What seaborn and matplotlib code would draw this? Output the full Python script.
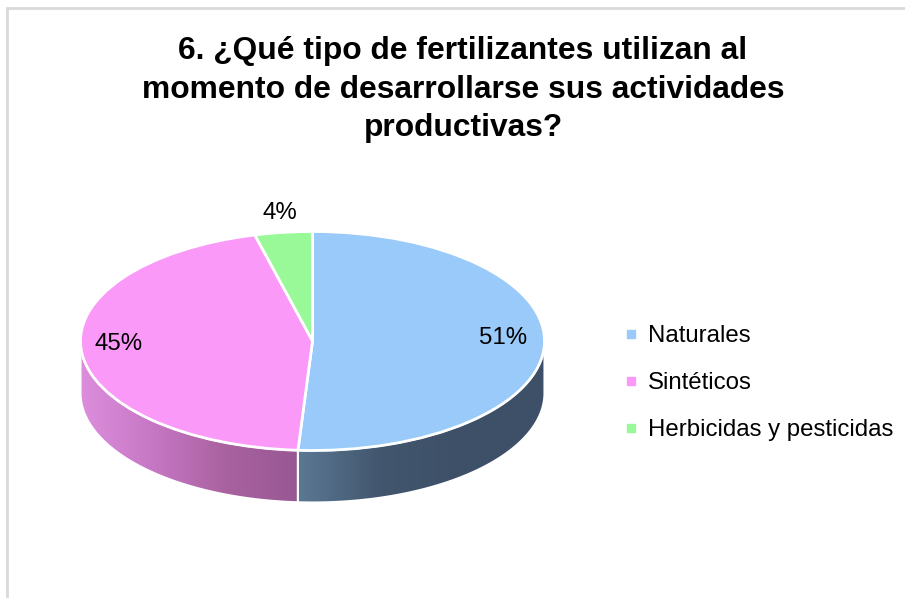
import numpy as np
import matplotlib.pyplot as plt
import seaborn as sns
from matplotlib.colors import ListedColormap
from matplotlib.patches import Polygon, Rectangle
from matplotlib.lines import Line2D
from matplotlib.transforms import Affine2D

sns.set_style("white")
plt.rcParams['font.family'] = ['Liberation Sans', 'DejaVu Sans']
plt.rcParams['text.color'] = 'black'

# datos
categorias = ['Naturales', 'Sintéticos', 'Herbicidas y pesticidas']
porcentajes = [51, 45, 4]
etiquetas = ['51%', '45%', '4%']
titulo = '6. ¿Qué tipo de fertilizantes utilizan al\nmomento de desarrollarse sus actividades\nproductivas?'

# colores
colores_top = ['#99caf9', '#fa99f8', '#99f999']
colores_lado = [['#5b7894', '#42566e', '#3d5068', '#3d5068'],
                ['#dc8edc', '#c677c4', '#a9629f', '#975893'],
                ['#6fbf6f', '#4f9f4f']]

# geometria del pastel (pixeles, y hacia arriba)
cx, cy = 312.5, 257.0
a, b = 232.0, 109.5
prof = 52.0
dist_etiq = [0.82, 0.84, 1.12]
dy_etiq = 6

fig = plt.figure(figsize=(9.05, 5.98), dpi=100)
ax = fig.add_axes([0, 0, 1, 1])

# borde del grafico
fig.patches.append(Rectangle((7 / 905, -0.05), 1.1, 1 - 8 / 598 + 0.05,
                             transform=fig.transFigure, fill=False,
                             edgecolor='#d9d9d9', linewidth=2))

# angulos de cada porcion (empieza arriba, sentido horario)
fr = np.array(porcentajes) / np.sum(porcentajes)
fin = 90 - 360 * np.cumsum(fr)
ini = np.concatenate([[90], fin[:-1]])

# paredes laterales visibles (mitad frontal: -180..0)
for i in range(len(porcentajes)):
    t1 = max(fin[i], -180)
    t2 = min(ini[i], 0)
    if t1 >= t2:
        continue
    t = np.radians(np.linspace(t1, t2, 120))
    xs = cx + a * np.cos(t)
    ys = cy + b * np.sin(t)
    pts = np.vstack([np.column_stack([xs, ys]),
                     np.column_stack([xs[::-1], ys[::-1] - prof])])
    poly = Polygon(pts, closed=True, facecolor='none', edgecolor='white',
                   linewidth=1.5, zorder=3)
    ax.add_patch(poly)
    cmap = ListedColormap(sns.blend_palette(colores_lado[i], 256))
    grad = np.linspace(0, 1, 256).reshape(1, -1)
    im = ax.imshow(grad, cmap=cmap, aspect='auto', zorder=2,
                   extent=[xs.min(), xs.max(), ys.min() - prof, ys.max()])
    im.set_clip_path(poly)

# cara superior
wedges, _ = ax.pie(porcentajes, colors=colores_top, startangle=90,
                   counterclock=False, radius=a, center=(cx, cy),
                   wedgeprops=dict(edgecolor='white', linewidth=2))
aplastar = Affine2D().translate(-cx, -cy).scale(1, b / a).translate(cx, cy) + ax.transData
for w in wedges:
    w.set_transform(aplastar)
    w.set_zorder(4)

# etiquetas de porcentaje
medio = np.radians((ini + fin) / 2)
for i, txt in enumerate(etiquetas):
    ax.text(cx + a * dist_etiq[i] * np.cos(medio[i]),
            cy + b * dist_etiq[i] * np.sin(medio[i]) + dy_etiq,
            txt, ha='center', va='center', fontsize=17.3, color='black', zorder=5)

ax.set_aspect('auto')
ax.set_xlim(0, 905)
ax.set_ylim(0, 598)
ax.axis('off')

# titulo
fig.text(463 / 905, 1 - 36 / 598, titulo, ha='center', va='top', color='black',
         fontsize=22.9, fontweight='bold', linespacing=1.37)

# leyenda
handles = [Line2D([], [], marker='s', linestyle='none', markersize=5.5,
                  markerfacecolor=c, markeredgecolor=c) for c in colores_top]
ax.legend(handles, categorias, loc='upper left', frameon=False,
          bbox_to_anchor=(625 / 905, 1 - 325 / 598), fontsize=17.3,
          handlelength=0.5, handletextpad=0.45, labelspacing=1.05,
          borderpad=0, borderaxespad=0, labelcolor='black')

plt.savefig('out.png', dpi=100)
